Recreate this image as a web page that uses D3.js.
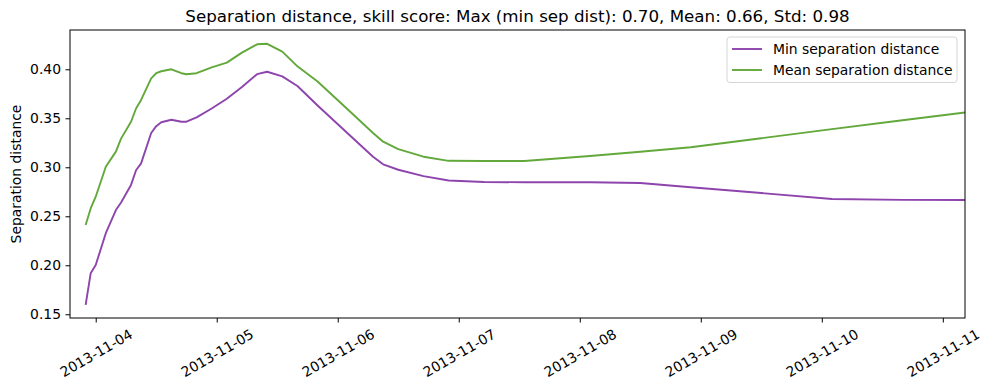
<!DOCTYPE html>
<html>
<head>
<meta charset="utf-8">
<script src="https://cdn.jsdelivr.net/npm/d3@7"></script>
<style>
  body { margin: 0; background: #fff; }
  svg { display: block; font-family: "DejaVu Sans", sans-serif; }
</style>
</head>
<body>
<svg id="chart"></svg>
<script>
// data
const times = [
  "2013-11-03 22:00", "2013-11-03 23:00", "2013-11-04 00:00", "2013-11-04 02:00",
  "2013-11-04 04:00", "2013-11-04 05:00", "2013-11-04 07:00", "2013-11-04 08:00",
  "2013-11-04 09:00", "2013-11-04 11:00", "2013-11-04 12:00", "2013-11-04 13:00",
  "2013-11-04 15:00", "2013-11-04 17:00", "2013-11-04 18:00", "2013-11-04 20:00",
  "2013-11-04 23:00", "2013-11-05 02:00", "2013-11-05 05:00", "2013-11-05 08:00",
  "2013-11-05 10:00", "2013-11-05 13:00", "2013-11-05 16:00", "2013-11-05 20:00",
  "2013-11-06 02:00", "2013-11-06 07:00", "2013-11-06 09:00", "2013-11-06 12:00",
  "2013-11-06 17:00", "2013-11-06 22:00", "2013-11-07 05:00", "2013-11-07 13:00",
  "2013-11-08 02:00", "2013-11-08 12:00", "2013-11-08 22:00", "2013-11-09 12:00",
  "2013-11-10 02:00", "2013-11-10 16:00", "2013-11-11 04:24"
];
const minSep = [
  0.1595, 0.1918, 0.2003, 0.2327, 0.2564, 0.2639, 0.2820, 0.2970,
  0.3040, 0.3350, 0.3420, 0.3460, 0.3485, 0.3465, 0.3465, 0.3510,
  0.3600, 0.3700, 0.3820, 0.3950, 0.3975, 0.3928, 0.3830, 0.3631,
  0.3345, 0.3108, 0.3030, 0.2975, 0.2910, 0.2865, 0.2850, 0.2847,
  0.2847, 0.2840, 0.2796, 0.2737, 0.2676, 0.2667, 0.2666
];
const meanSep = [
  0.2411, 0.2580, 0.2700, 0.3006, 0.3160, 0.3290, 0.3465, 0.3600,
  0.3687, 0.3908, 0.3960, 0.3980, 0.4000, 0.3960, 0.3950, 0.3960,
  0.4020, 0.4068, 0.4170, 0.4255, 0.4260, 0.4180, 0.4030, 0.3875,
  0.3590, 0.3350, 0.3261, 0.3185, 0.3108, 0.3066, 0.3064, 0.3064,
  0.3115, 0.3159, 0.3204, 0.3297, 0.3390, 0.3480, 0.3559
];
const seriesNames = ["Min separation distance", "Mean separation distance"];
const seriesColors = ["#8e44ad", "#62a83a"];
const xDomain = ["2013-11-03 18:54", "2013-11-11 04:24"];
const yDomain = [0.1462, 0.4401];
const yTicks = [0.15, 0.20, 0.25, 0.30, 0.35, 0.40];
const title = "Separation distance, skill score: Max (min sep dist): 0.70, Mean: 0.66, Std: 0.98";

const width = 989, height = 390;
const margin = {top: 30, right: 24, bottom: 72, left: 70};
const innerW = width - margin.left - margin.right;
const innerH = height - margin.top - margin.bottom;
const fontSize = "13.9px";

const parse = d3.utcParse("%Y-%m-%d %H:%M");
const rows = times.map((t, i) => ({t: parse(t), min: minSep[i], mean: meanSep[i]}));

const svg = d3.select("#chart").attr("width", width).attr("height", height);
const g = svg.append("g").attr("transform", `translate(${margin.left},${margin.top})`);

const x = d3.scaleUtc().domain(xDomain.map(parse)).range([0, innerW]);
const y = d3.scaleLinear().domain(yDomain).range([innerH, 0]);

// clip so the lines stop at the frame
g.append("clipPath").attr("id", "clip")
  .append("rect").attr("width", innerW).attr("height", innerH);

const lineMin = d3.line().x(d => x(d.t)).y(d => y(d.min));
const lineMean = d3.line().x(d => x(d.t)).y(d => y(d.mean));

const plot = g.append("g").attr("clip-path", "url(#clip)");
plot.append("path").attr("d", lineMin(rows))
  .attr("fill", "none").attr("stroke", seriesColors[0]).attr("stroke-width", 1.9)
  .attr("stroke-linejoin", "round");
plot.append("path").attr("d", lineMean(rows))
  .attr("fill", "none").attr("stroke", seriesColors[1]).attr("stroke-width", 1.9)
  .attr("stroke-linejoin", "round");

// axes
const xAxis = d3.axisBottom(x)
  .ticks(d3.utcDay.every(1))
  .tickFormat(d3.utcFormat("%Y-%m-%d"))
  .tickSizeOuter(0).tickSize(4.5).tickPadding(4.5);
const xg = g.append("g").attr("transform", `translate(0,${innerH})`).call(xAxis);
xg.select(".domain").remove();
xg.attr("font-size", null).attr("font-family", null);
xg.selectAll("text")
  .attr("font-size", fontSize).attr("fill", "#000")
  .attr("text-anchor", "middle")
  .attr("dy", null).attr("y", null)
  .attr("dominant-baseline", "central")
  .attr("transform", "translate(0,35) rotate(-30)");
xg.selectAll("line").attr("stroke", "#000");

const yAxis = d3.axisLeft(y).tickValues(yTicks).tickFormat(d3.format(".2f"))
  .tickSizeOuter(0).tickSize(4.5).tickPadding(4.5);
const yg = g.append("g").call(yAxis);
yg.select(".domain").remove();
yg.attr("font-size", null).attr("font-family", null);
yg.selectAll("text").attr("font-size", fontSize).attr("fill", "#000");
yg.selectAll("line").attr("stroke", "#000");

g.append("rect").attr("width", innerW).attr("height", innerH)
  .attr("fill", "none").attr("stroke", "#000").attr("stroke-width", 1);

// labels
svg.append("text")
  .attr("x", margin.left + innerW / 2).attr("y", 22)
  .attr("text-anchor", "middle").attr("font-size", "16.7px").attr("fill", "#000")
  .text(title);

svg.append("text")
  .attr("transform", `translate(21,${margin.top + innerH / 2}) rotate(-90)`)
  .attr("text-anchor", "middle").attr("font-size", fontSize).attr("fill", "#000")
  .text("Separation distance");

// legend
const legend = svg.append("g").attr("transform", "translate(727,37)");
legend.append("rect").attr("width", 230).attr("height", 45.5).attr("rx", 3)
  .attr("fill", "#fff").attr("fill-opacity", 0.8)
  .attr("stroke", "#d6d6d6").attr("stroke-width", 1);
seriesNames.forEach((name, i) => {
  const ly = 12 + i * 21;
  legend.append("line").attr("x1", 5).attr("x2", 35).attr("y1", ly).attr("y2", ly)
    .attr("stroke", seriesColors[i]).attr("stroke-width", 1.9);
  legend.append("text").attr("x", 46).attr("y", ly).attr("dy", "0.35em")
    .attr("font-size", fontSize).attr("fill", "#000").text(name);
});
</script>
</body>
</html>
